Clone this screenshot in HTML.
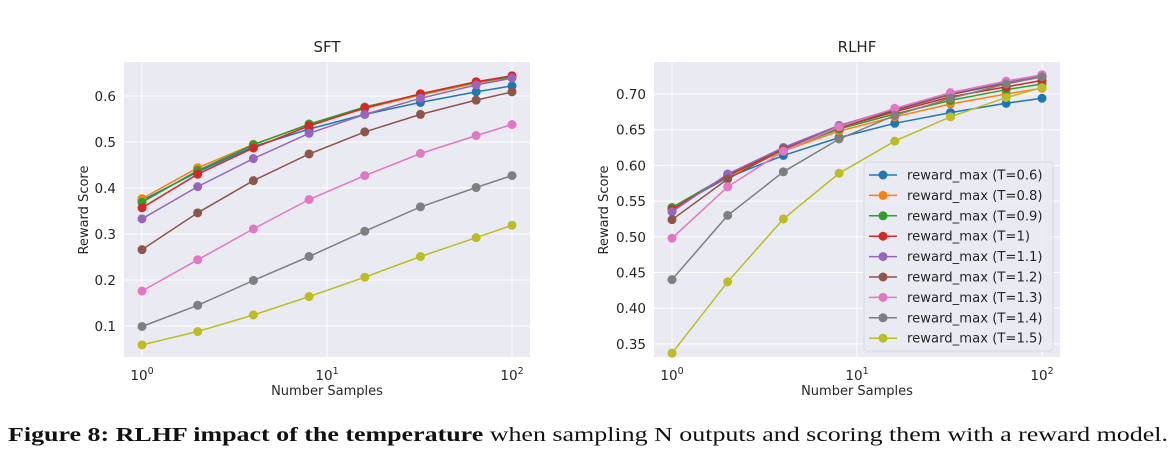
<!DOCTYPE html>
<html><head><meta charset="utf-8"><style>
html,body{margin:0;padding:0;background:#fff;}
svg{display:block;font-family:"DejaVu Sans","Liberation Sans",sans-serif;}
</style></head><body>
<svg id="fig" width="1174" height="463" viewBox="0 0 1174 463" xmlns="http://www.w3.org/2000/svg">
<text x="8" y="441" font-family="'Liberation Serif',serif" font-size="20" fill="#111" textLength="1160" lengthAdjust="spacingAndGlyphs"><tspan font-weight="bold">Figure 8: RLHF impact of the temperature</tspan> when sampling N outputs and scoring them with a reward model.</text>
</svg>
<script>
const xValues = [1, 2, 4, 8, 16, 32, 64, 100];
const seriesLabels = ["reward_max (T=0.6)","reward_max (T=0.8)","reward_max (T=0.9)","reward_max (T=1)","reward_max (T=1.1)","reward_max (T=1.2)","reward_max (T=1.3)","reward_max (T=1.4)","reward_max (T=1.5)"];
const sftT06 = [0.373,0.435,0.490,0.528,0.560,0.586,0.609,0.622];
const sftT08 = [0.377,0.444,0.495,0.537,0.573,0.602,0.628,0.641];
const sftT09 = [0.369,0.438,0.494,0.539,0.576,0.604,0.630,0.642];
const sftT10 = [0.357,0.430,0.487,0.535,0.574,0.605,0.631,0.644];
const sftT11 = [0.333,0.403,0.464,0.519,0.560,0.595,0.624,0.639];
const sftT12 = [0.266,0.346,0.416,0.474,0.522,0.560,0.591,0.609];
const sftT13 = [0.176,0.244,0.311,0.375,0.427,0.475,0.514,0.538];
const sftT14 = [0.099,0.145,0.199,0.251,0.306,0.359,0.401,0.427];
const sftT15 = [0.059,0.088,0.124,0.164,0.206,0.251,0.292,0.319];
const rlhfT06 = [0.540,0.583,0.614,0.639,0.659,0.674,0.687,0.694];
const rlhfT08 = [0.540,0.585,0.620,0.648,0.668,0.686,0.700,0.708];
const rlhfT09 = [0.541,0.586,0.622,0.651,0.672,0.691,0.706,0.714];
const rlhfT10 = [0.538,0.586,0.623,0.653,0.675,0.696,0.710,0.719];
const rlhfT11 = [0.535,0.588,0.625,0.656,0.679,0.700,0.716,0.725];
const rlhfT12 = [0.524,0.581,0.623,0.654,0.677,0.699,0.715,0.724];
const rlhfT13 = [0.498,0.570,0.620,0.654,0.680,0.702,0.718,0.727];
const rlhfT14 = [0.440,0.530,0.591,0.637,0.670,0.694,0.714,0.724];
const rlhfT15 = [0.337,0.437,0.525,0.589,0.634,0.668,0.695,0.709];
const sftTicks = [0.1,0.2,0.3,0.4,0.5,0.6];
const sftTickLabels = ["0.1","0.2","0.3","0.4","0.5","0.6"];
const rlhfTicks = [0.35,0.40,0.45,0.50,0.55,0.60,0.65,0.70];
const rlhfTickLabels = ["0.35","0.40","0.45","0.50","0.55","0.60","0.65","0.70"];
const xTickExps = [0,1,2];

const colors = ["#1f77b4","#ff7f0e","#2ca02c","#d62728","#9467bd","#8c564b","#e377c2","#7f7f7f","#bcbd22"];
const NS = "http://www.w3.org/2000/svg";
const svg = document.getElementById('fig');
function mk(tag, attrs, parent){const e=document.createElementNS(NS,tag);for(const k in attrs)e.setAttribute(k,attrs[k]);(parent||svg).appendChild(e);return e;}

function panel(cfg){
  const g = mk('g',{});
  
  
  const xs = v => cfg.x0 + Math.log10(v)*185;
  const ys = v => cfg.yRef + (cfg.vRef - v)*cfg.pxPerUnit;
  const bg = mk('rect',{x:cfg.left,y:62,width:cfg.right-cfg.left,height:295,fill:"#eaeaf2"},g);
  
  
  cfg.ticks.forEach((t,i)=>{
    const y = ys(t);
    mk('line',{x1:cfg.left,x2:cfg.right,y1:y,y2:y,stroke:"#fff","stroke-width":1},g);
    const tl = mk('text',{x:cfg.labelRight,y:y+5,"text-anchor":"end","font-size":13.5,fill:"#262626"},g);
    tl.textContent = cfg.tickLabels[i];
    
    
  });
  xTickExps.forEach(e=>{
    const x = xs(Math.pow(10,e));
    mk('line',{x1:x,x2:x,y1:62,y2:357,stroke:"#fff","stroke-width":1},g);
    const tl = mk('text',{x:x,y:380,"text-anchor":"middle","font-size":13.5,fill:"#262626"},g);
    
    
    tl.appendChild(document.createTextNode('10'));
    const sup = mk('tspan',{dy:-6,"font-size":9.5},tl); sup.textContent = String(e);
  });
  const title = mk('text',{x:(cfg.left+cfg.right)/2,y:52,"text-anchor":"middle","font-size":15,fill:"#262626"},g);
  title.textContent = cfg.title;
  
  
  const xl = mk('text',{x:(cfg.left+cfg.right)/2,y:395,"text-anchor":"middle","font-size":13,fill:"#262626"},g);
  xl.textContent = "Number Samples";
  
  
  const yl = mk('text',{x:0,y:0,"text-anchor":"middle","font-size":13,fill:"#262626",transform:`translate(${cfg.ylabelX},210) rotate(-90)`},g);
  yl.textContent = "Reward Score";
  
  
  cfg.series.forEach((arr,si)=>{
    const pts = arr.map((v,i)=>xs(xValues[i]).toFixed(1)+','+ys(v).toFixed(1)).join(' ');
    const sg = mk('g',{},g);
    
    
    mk('polyline',{points:pts,fill:"none",stroke:colors[si],"stroke-width":1.5},sg);
    arr.forEach((v,i)=>{
      const c = mk('circle',{cx:xs(xValues[i]),cy:ys(v),r:4.5,fill:colors[si]},sg);
      
      
    });
  });
}

panel({name:'sft-chart',title:'SFT',left:124,right:530,x0:142,yRef:96,vRef:0.6,pxPerUnit:460,ticks:sftTicks,tickLabels:sftTickLabels,labelRight:116,ylabelX:88,
  series:[sftT06,sftT08,sftT09,sftT10,sftT11,sftT12,sftT13,sftT14,sftT15]});
panel({name:'rlhf-chart',title:'RLHF',left:654,right:1060,x0:672,yRef:94,vRef:0.70,pxPerUnit:714,ticks:rlhfTicks,tickLabels:rlhfTickLabels,labelRight:646,ylabelX:608,
  series:[rlhfT06,rlhfT08,rlhfT09,rlhfT10,rlhfT11,rlhfT12,rlhfT13,rlhfT14,rlhfT15]});

const lg = mk('g',{});


mk('rect',{x:864,y:162,width:189,height:189,rx:3,fill:"#eaeaf2",stroke:"#d8d8e0","stroke-width":1,"fill-opacity":0.85},lg);
seriesLabels.forEach((lab,i)=>{
  const y = 175 + i*20.4;
  const e = mk('g',{},lg);
  
  
  mk('line',{x1:869,x2:897,y1:y,y2:y,stroke:colors[i],"stroke-width":1.5},e);
  mk('circle',{cx:883,cy:y,r:4.5,fill:colors[i]},e);
  const t = mk('text',{x:907,y:y+4.5,"font-size":13.2,fill:"#262626"},e);
  t.textContent = lab;
});
</script>
</body></html>
